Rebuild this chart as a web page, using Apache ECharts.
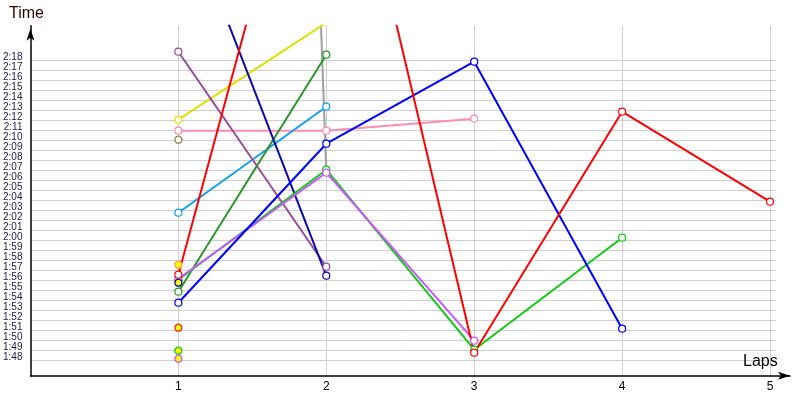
<!DOCTYPE html>
<html><head><meta charset="utf-8">
<script src="https://cdn.jsdelivr.net/npm/echarts@6/dist/echarts.min.js"></script>
<style>html,body{margin:0;padding:0;background:#fff}#c{width:800px;height:400px}</style>
</head><body><div id="c"></div>
<script>
// ---- data ----
const laps = [1, 2, 3, 4, 5];
const tickLabels = ['1:48','1:49','1:50','1:51','1:52','1:53','1:54','1:55','1:56','1:57','1:58','1:59','2:00','2:01','2:02','2:03','2:04','2:05','2:06','2:07','2:08','2:09','2:10','2:11','2:12','2:13','2:14','2:15','2:16','2:17','2:18'];
const xTickLabels = ['1','2','3','4','5'];
// lap times in seconds, per lap
const red       = [116.6, 171.2, 108.8, 132.9, 123.9];
const blue      = [113.8, 129.7, 137.9, 111.2];
const navy      = [154.6, 116.5];
const purple    = [138.9, 117.4];
const yellow    = [132.1, 141.8];
const pink      = [131.0, 131.0, 132.2];
const lightBlue = [122.8, 133.4];
const darkGreen = [114.9, 138.6];
const gray      = [530.0, 127.0];
const green     = [116.1, 127.1, 109.1, 120.3];
const magenta   = [116.2, 126.8, 110.0];
const olive     = [130.1];
// single lap-1 points with filled markers
const orangeFilled  = [117.6];
const navyFilled    = [115.8];
const redFilled     = [111.3];
const greenFilled   = [109.0];
const magentaFilled = [108.2];

// ---- styles ----
const FONT = '"Liberation Sans", Arial, sans-serif';
const lineDefs = [
  [gray, '#a0a0a0'], [yellow, '#e0e000'], [pink, '#ff8cb0'], [lightBlue, '#10a0f0'],
  [purple, '#9a4a9a'], [darkGreen, '#2a962a'], [navy, '#0a0aa8'],
  [green, '#10cc10'], [magenta, '#cc55ff'], [blue, '#0000ff'], [red, '#ff0000']
];
const pointDefs = [
  [olive, '#8a8a48', '#ffffff'],
  [orangeFilled, '#ffa040', '#ffff00'], [navyFilled, '#0a0aa8', '#ffff00'],
  [redFilled, '#ff2020', '#ffff00'], [greenFilled, '#10cc10', '#ffff00'],
  [magentaFilled, '#cc55ff', '#ffff00']
];

function toSec(s) { const p = s.split(':'); return (+p[0]) * 60 + (+p[1]); }
const tickVals = tickLabels.map(toSec);
const xTicks = xTickLabels.map(Number);

const Y_MIN = 106.5, Y_MAX = 141.5, X_MAX = 5.135, GRID_X_END = 5.04;

const series = [];
series.push({
  type: 'line', data: [], silent: true, z: 0, clip: false,
  markLine: {
    z: 0, silent: true, symbol: 'none', animation: false,
    label: { show: false },
    lineStyle: { color: '#cfcfcf', width: 1, type: 'solid' },
    emphasis: { disabled: true },
    data: tickVals.map(v => [{ coord: [0, v] }, { coord: [GRID_X_END, v] }])
      .concat(xTicks.map(x => [{ coord: [x, Y_MIN] }, { coord: [x, Y_MAX] }]))
  }
});
lineDefs.forEach(([arr, col]) => {
  series.push({
    type: 'line', z: 3,
    data: arr.map((v, i) => [laps[i], v]),
    symbol: 'circle', symbolSize: 7, showSymbol: true, showAllSymbol: true,
    lineStyle: { color: col, width: 2, type: 'solid' },
    itemStyle: { color: '#ffffff', borderColor: col, borderWidth: 1.2 },
    emphasis: { disabled: true }
  });
});
pointDefs.forEach(([arr, col, fill]) => {
  series.push({
    type: 'scatter', z: 4,
    data: arr.map((v, i) => [laps[i], v]),
    symbol: 'circle', symbolSize: 7,
    itemStyle: { color: fill, borderColor: col, borderWidth: 1.3, opacity: 1 },
    emphasis: { disabled: true }
  });
});

const chart = echarts.init(document.getElementById('c'), null, { renderer: 'canvas' });
chart.setOption({
  animation: false,
  backgroundColor: '#ffffff',
  title: [
    { text: 'Time', left: 9, top: 6, padding: 0, textStyle: { fontSize: 16, fontWeight: 'normal', color: '#2a0000', fontFamily: FONT } },
    { text: 'Laps', left: 743, top: 354, padding: 0, textStyle: { fontSize: 16, fontWeight: 'normal', color: '#000000', fontFamily: FONT } }
  ],
  grid: { left: 30, right: 10, top: 25.7, bottom: 24.3, containLabel: false },
  xAxis: {
    type: 'value', min: 0, max: X_MAX, interval: 1,
    axisLine: { show: true, lineStyle: { color: '#000', width: 1.5 }, symbol: ['none', 'arrow'], symbolSize: [6, 12] },
    axisTick: { show: false },
    splitLine: { show: false },
    axisLabel: {
      color: '#000', fontSize: 12, margin: 5, fontFamily: FONT,
      showMaxLabel: false,
      formatter: v => { const i = xTicks.indexOf(v); return i >= 0 ? xTickLabels[i] : ''; }
    }
  },
  yAxis: {
    type: 'value', min: Y_MIN, max: Y_MAX, interval: 0.5,
    axisLine: { show: true, lineStyle: { color: '#000', width: 1.5 }, symbol: ['none', 'arrow'], symbolSize: [6, 12], symbolOffset: [0, -3] },
    axisTick: { show: false },
    splitLine: { show: false },
    axisLabel: {
      color: '#1c1c40', fontSize: 10, margin: 8, fontFamily: FONT, verticalAlign: 'bottom', lineHeight: 7,
      formatter: v => { const i = tickVals.indexOf(v); return i >= 0 ? tickLabels[i] : ''; }
    }
  },
  series: series
});
</script>
</body></html>
